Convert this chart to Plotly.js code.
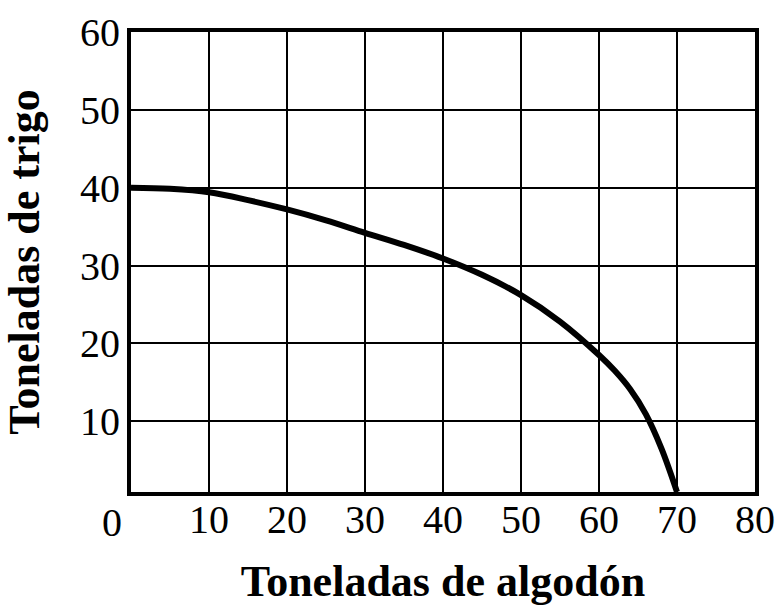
<!DOCTYPE html>
<html>
<head>
<meta charset="utf-8">
<script src="https://cdn.plot.ly/plotly-3.0.1.min.js"></script>
<style>html,body{margin:0;padding:0;background:#fff;}#chart{width:780px;height:606px;}</style>
</head>
<body>
<div id="chart"></div>
<script>
const cotton = [0, 5, 10, 15, 20, 25, 30, 35, 40, 45, 50, 55, 60, 62, 64, 66, 68, 70];
const wheat = [40, 39.85, 39.4, 38.4, 37.2, 35.8, 34.2, 32.65, 30.9, 28.8, 26.2, 22.8, 18.5, 16.5, 14.1, 10.9, 6.5, 0.9];
const xTicks = [10, 20, 30, 40, 50, 60, 70, 80];
const yTicks = [10, 20, 30, 40, 50, 60];
const xTitle = 'Toneladas de algodón';
const yTitle = 'Toneladas de trigo';
const originLabel = '0';

const serif = 'Liberation Serif, Times New Roman, serif';

Plotly.newPlot('chart', [{
  x: cotton,
  y: wheat,
  type: 'scatter',
  mode: 'lines',
  line: {color: '#000', width: 6, shape: 'spline', smoothing: 1},
  hoverinfo: 'skip'
}], {
  width: 780,
  height: 606,
  margin: {l: 131, r: 25, t: 32, b: 114},
  paper_bgcolor: '#fff',
  plot_bgcolor: '#fff',
  showlegend: false,
  xaxis: {
    range: [0, 80],
    tickvals: xTicks,
    ticktext: xTicks.map(String),
    ticks: '',
    ticklabelstandoff: -11,
    tickfont: {family: serif, size: 40, color: '#000'},
    showgrid: true, gridcolor: '#000', gridwidth: 2,
    showline: true, linecolor: '#000', linewidth: 4, mirror: true,
    zeroline: false,
    title: {text: xTitle, font: {family: serif, size: 44, color: '#000', weight: 'bold'}, standoff: 26}
  },
  yaxis: {
    range: [0.9, 60],
    tickvals: yTicks,
    ticktext: yTicks.map(String),
    ticks: '',
    ticklabelstandoff: -1,
    tickfont: {family: serif, size: 40, color: '#000'},
    showgrid: true, gridcolor: '#000', gridwidth: 2,
    showline: true, linecolor: '#000', linewidth: 4, mirror: true,
    zeroline: false,
    title: {text: yTitle, font: {family: serif, size: 44, color: '#000', weight: 'bold'}, standoff: 30}
  },
  annotations: [{
    text: originLabel, xref: 'paper', yref: 'paper',
    x: -0.03, y: 0, xanchor: 'center', yanchor: 'top', yshift: -6,
    showarrow: false,
    font: {family: serif, size: 40, color: '#000'}
  }]
}, {staticPlot: true});
</script>
</body>
</html>
